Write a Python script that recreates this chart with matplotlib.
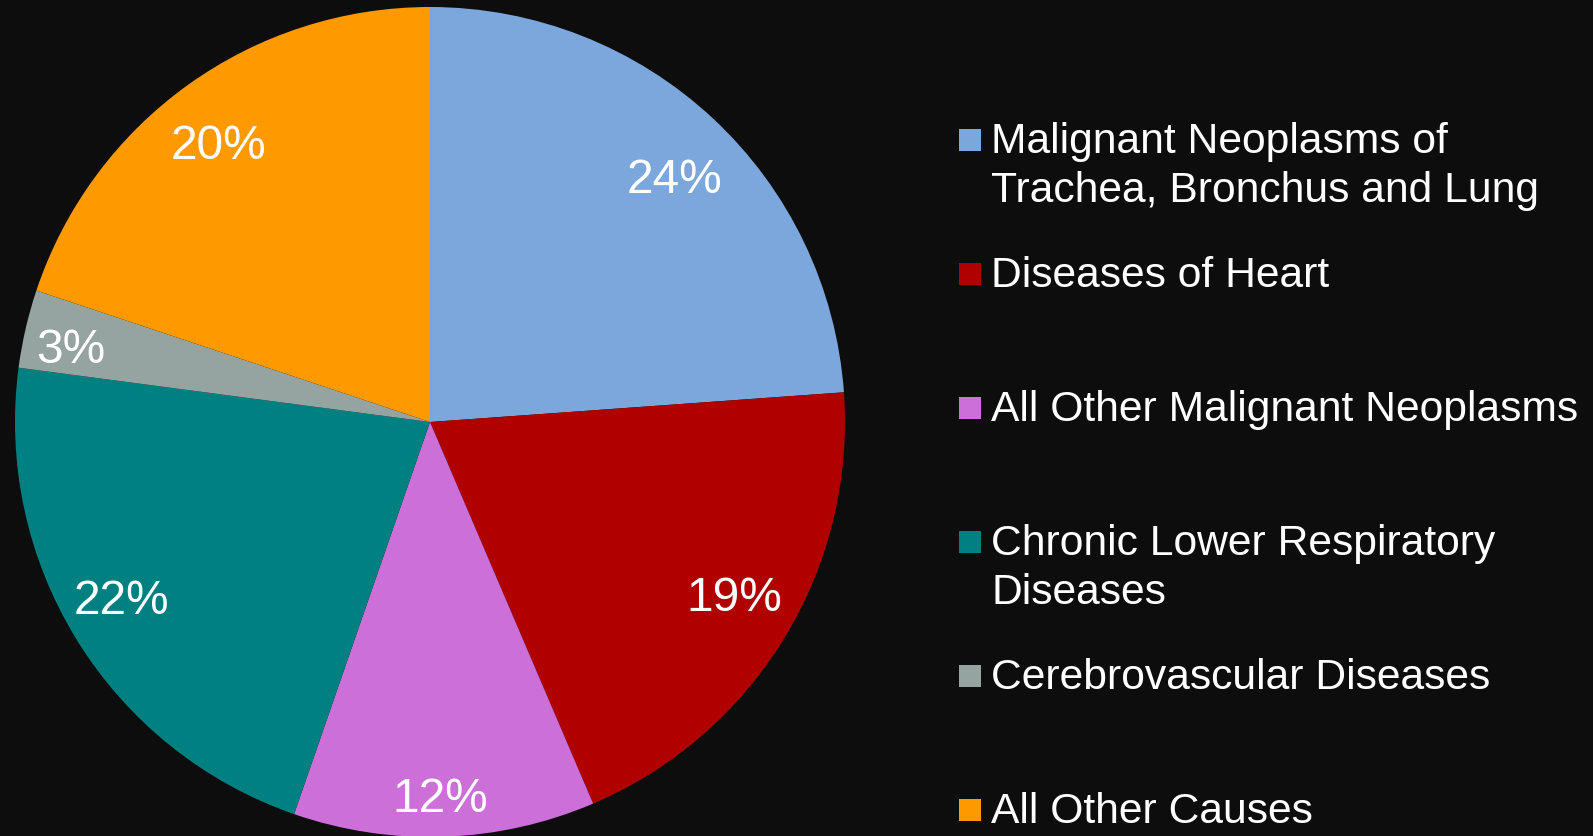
import numpy as np
import matplotlib
matplotlib.use("Agg")
import matplotlib.pyplot as plt
from matplotlib.patches import Rectangle

# shares (percent), clockwise from 12 o'clock
causes = [
    "Malignant Neoplasms of\nTrachea, Bronchus and Lung",
    "Diseases of Heart",
    "All Other Malignant Neoplasms",
    "Chronic Lower Respiratory\nDiseases",
    "Cerebrovascular Diseases",
    "All Other Causes",
]
shares = [23.86, 19.71, 11.74, 21.78, 3.04, 19.87]
pct_labels = ["24%", "19%", "12%", "22%", "3%", "20%"]

colors = ["#7BA7DC", "#B00000", "#CD6FD8", "#008080", "#95A3A1", "#FF9900"]
# label placement: radius and small angle nudge (deg) from the wedge middle
label_r = [0.835, 0.843, 0.90, 0.854, 0.884, 0.845]
label_nudge = [-1.85, 1.9, -0.5, -2.1, 1.0, 1.3]
BG = "#0D0D0D"

W, H = 1593, 836
fig = plt.figure(figsize=(W / 100, H / 100), dpi=100, facecolor=BG)

# pie centre (430, 422) px from top-left, radius 415 px
cx, cy, R = 430, 422, 415
ax = fig.add_axes([(cx - R) / W, (H - cy - R) / H, 2 * R / W, 2 * R / H])
ax.set_facecolor(BG)

wedges, _ = ax.pie(shares, colors=colors, startangle=90, counterclock=False,
                   radius=1.0, wedgeprops=dict(linewidth=0))
ax.set_xlim(-1, 1)
ax.set_ylim(-1, 1)
ax.set_aspect("equal")
ax.axis("off")

half_digit = 17 / R
for w, txt, r, nd in zip(wedges, pct_labels, label_r, label_nudge):
    mid = np.deg2rad((w.theta1 + w.theta2) / 2 + nd)
    ax.text(r * np.cos(mid), r * np.sin(mid) - half_digit, txt, color="white",
            fontsize=34.5, family=["Liberation Sans", "DejaVu Sans"],
            ha="center", va="baseline")

# legend drawn by hand, one entry every 134 px
leg_font = ["Liberation Sans", "DejaVu Sans"]
base0 = 153
for i, (name, c) in enumerate(zip(causes, colors)):
    base = base0 + 134 * i
    fig.patches.append(Rectangle((959 / W, 1 - (base - 2) / H), 22 / W, 22 / H,
                                 transform=fig.transFigure, facecolor=c,
                                 edgecolor="none"))
    for j, line in enumerate(name.split("\n")):
        fig.text(991 / W, 1 - (base + 49 * j) / H, line, color="white",
                 fontsize=30.7, family=leg_font, ha="left", va="baseline")

fig.savefig("out.png", dpi=100, facecolor=BG)
